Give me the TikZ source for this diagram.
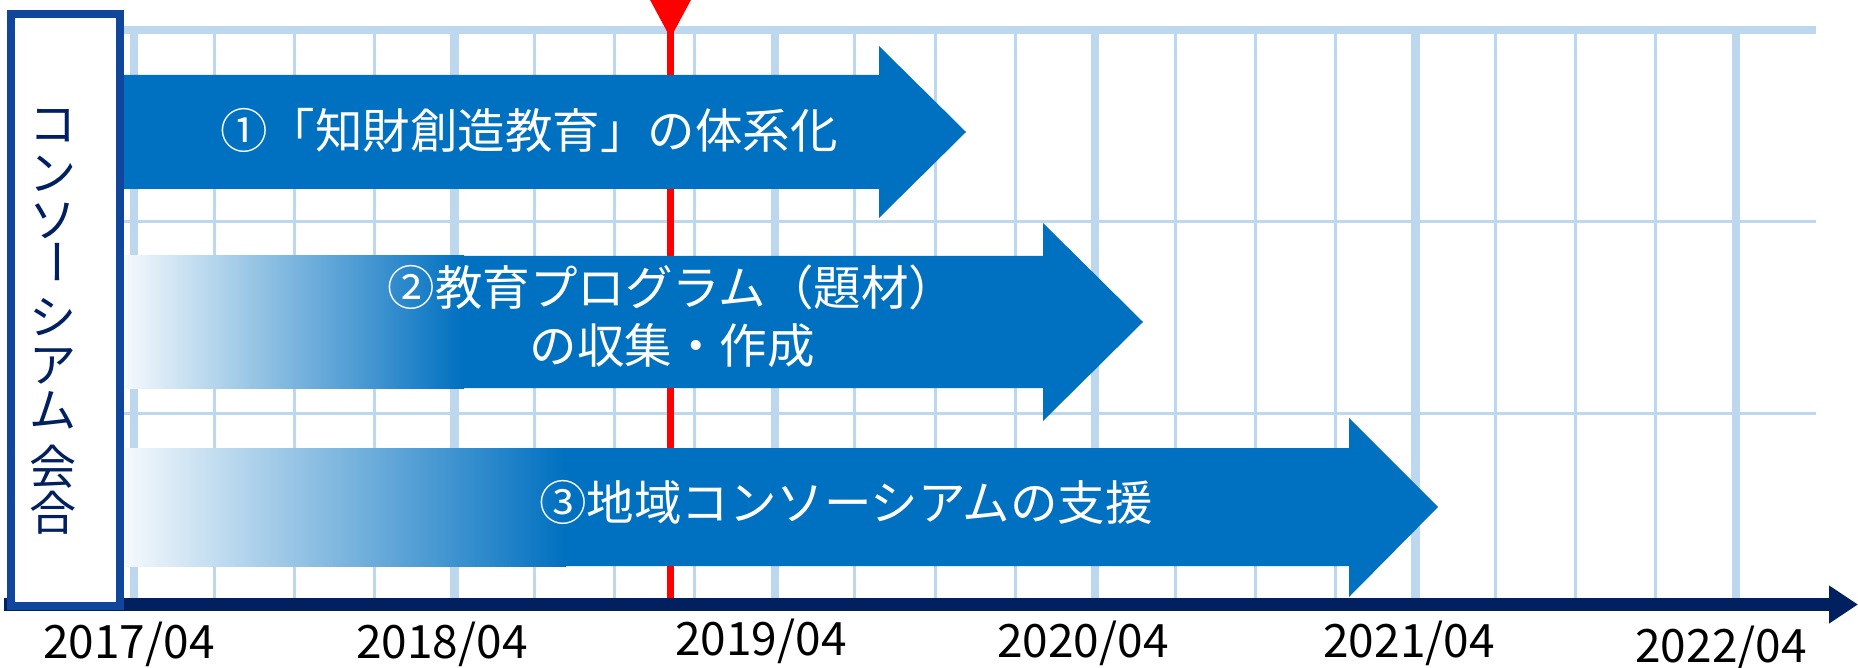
\documentclass[tikz,border=0pt]{standalone}
\usepackage{fontspec}
\newfontfamily\jp{Noto Sans CJK JP}
\usetikzlibrary{arrows.meta}
\definecolor{gridblue}{HTML}{BDD7EE}
\definecolor{navy}{HTML}{002060}
\definecolor{arrowblue}{HTML}{0070C0}
\definecolor{boxblue}{RGB}{16,70,155}
\definecolor{fadewhite}{HTML}{F5F9FC}
\begin{document}
\begin{tikzpicture}[x=1pt,y=-1pt,
  thingrid/.style={gridblue, line width=3pt},
  thickgrid/.style={gridblue, line width=8.5pt},
  arrowshape/.style={fill=arrowblue, draw=none},
  arrowtext/.style={font=\jp\fontsize{47.5pt}{58pt}\selectfont, text=white, align=center, inner sep=0pt},
  yearlabel/.style={font=\jp\fontsize{46pt}{50pt}\selectfont, text=black, inner sep=0pt},
  vchar/.style={font=\jp\fontsize{47pt}{50pt}\selectfont, text=navy, inner sep=0pt},
]
\useasboundingbox (0,0) rectangle (1858,668);

% grid
\foreach \i in {1,2,3,5,6,7,9,10,11,13,14,15,17,18,19}
  \draw[thingrid] ({134+80.1*\i},30) -- ({134+80.1*\i},604);
\foreach \i in {0,4,8,12,16,20}
  \draw[thickgrid] ({134+80.1*\i},30) -- ({134+80.1*\i},604);
\draw[thingrid] (115,221.5) -- (1816,221.5);
\draw[thingrid] (115,413) -- (1816,413);
\draw[gridblue, line width=8pt] (115,30) -- (1816,30);

% red marker
\coordinate (redtop) at (670.5,0);
\coordinate (redbot) at (670.5,603);
\draw[red, line width=7pt] (redtop) -- (redbot);
\fill[red] (649,-2) -- (692,-2) -- (670.5,38) -- cycle;

% arrow 1
\fill[arrowshape] (124,75) -- (879,75) -- (879,46) -- (966,132) -- (879,218) -- (879,189) -- (124,189) -- cycle;
% arrow 2
\shade[left color=fadewhite, right color=arrowblue] (124,256) rectangle (464,388);
\fill[arrowshape] (463,256) -- (1043,256) -- (1043,223) -- (1143,322) -- (1043,421) -- (1043,388) -- (463,388) -- cycle;
% arrow 3
\shade[left color=fadewhite, right color=arrowblue] (124,448) rectangle (566,566);
\fill[arrowshape] (565,448) -- (1349,448) -- (1349,418) -- (1438,507) -- (1349,597) -- (1349,566) -- (565,566) -- cycle;

\node[arrowtext] (t1) at (529,130) {①「知財創造教育」の体系化};
\node[arrowtext] (t2) at (672,316) {②教育プログラム（題材）\\の収集・作成};
\node[arrowtext] (t3) at (846,502) {③地域コンソーシアムの支援};

% axis
\coordinate (axL) at (4,604.5);
\coordinate (axR) at (1858,604.5);
\draw[navy, line width=12.5pt, -{Triangle[length=29pt,width=36pt]}] (axL) -- (axR);

% box
\node[draw=boxblue, line width=8pt, fill=white, minimum width=109pt, minimum height=592pt, inner sep=0pt] (box) at (65.5,310) {};
\node[vchar] (v1) at (53,126) {コ};
\node[vchar] (v2) at (53,174) {ン};
\node[vchar] (v3) at (53,221) {ソ};
\node[vchar, rotate=90] (v4) at (65,262) {ー};
\node[vchar] (v5) at (53,317) {シ};
\node[vchar] (v6) at (53,366) {ア};
\node[vchar] (v7) at (53,410) {ム};
\node[vchar] (v8) at (53,467) {会};
\node[vchar] (v9) at (53,513) {合};

% year labels
\node[yearlabel] (y17) at (129,644) {2017/04};
\node[yearlabel] (y18) at (442,644) {2018/04};
\node[yearlabel] (y19) at (761,641) {2019/04};
\node[yearlabel] (y20) at (1083,643) {2020/04};
\node[yearlabel] (y21) at (1409,643) {2021/04};
\node[yearlabel] (y22) at (1721,648) {2022/04};
\end{tikzpicture}
\end{document}
